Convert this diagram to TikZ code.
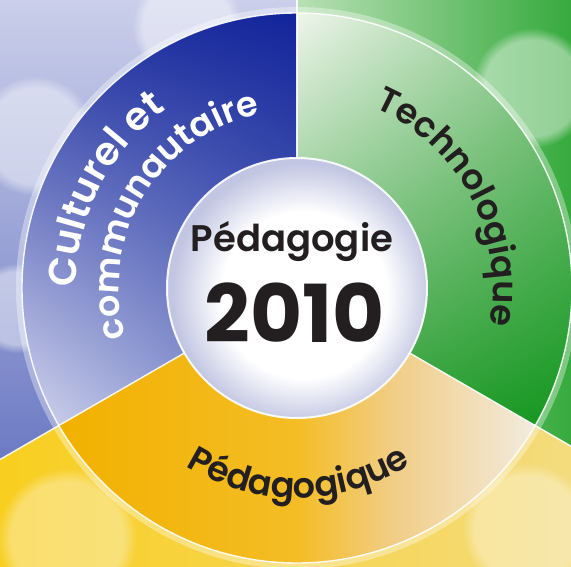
\documentclass[tikz,border=0pt]{standalone}
\usepackage{fontspec}
\setmainfont{Poppins}
\newfontfamily\ringfont{Poppins}[UprightFont={* SemiBold}]
\usetikzlibrary{decorations.text,shadings,fadings}
\definecolor{bgBlueTop}{HTML}{CDD1EB}
\definecolor{bgBlueMid}{HTML}{4A5CB5}
\definecolor{bgBlueBot}{HTML}{6C7AC3}
\definecolor{bgGreenL}{HTML}{B9E0B5}
\definecolor{bgGreenR}{HTML}{2AA532}
\definecolor{bgYelL}{HTML}{F8CE1E}
\definecolor{bgYelR}{HTML}{F4DC82}
\definecolor{blueUR}{HTML}{12249A}
\definecolor{blueUL}{HTML}{2233A2}
\definecolor{blueLL}{HTML}{D4D7EE}
\definecolor{blueLR}{HTML}{6E7EC5}
\definecolor{greenUL}{HTML}{EEF5EB}
\definecolor{greenUR}{HTML}{7CC27C}
\definecolor{greenLL}{HTML}{3AA23E}
\definecolor{greenLR}{HTML}{0C9419}
\definecolor{yelA}{HTML}{F2B100}
\definecolor{yelB}{HTML}{F4BD25}
\definecolor{yelC}{HTML}{F1CD85}
\definecolor{yelD}{HTML}{F2EBDF}
\definecolor{innerEdge}{HTML}{C2C6E2}
\definecolor{ink}{HTML}{231F20}
\pgfdeclareradialshading{innerglow}{\pgfpoint{2bp}{-2bp}}{color(0bp)=(white); color(16bp)=(white); color(25bp)=(innerEdge); color(50bp)=(innerEdge)}
\pgfdeclarehorizontalshading{yelshade}{100bp}{color(0bp)=(yelA); color(25bp)=(yelA); color(50bp)=(yelB); color(60bp)=(yelC); color(75bp)=(yelD); color(100bp)=(yelD)}
\tikzset{
  divider/.style={draw=white, line width=1.4pt, opacity=0.9},
  blob/.style={fill=white, path fading=circle with fuzzy edge 20 percent, opacity=0.45},
  ringtext/.style={decorate, decoration={text along path, text align=center, #1}}
}
\begin{document}
\begin{tikzpicture}[x=1pt,y=1pt]
\useasboundingbox (-297,-278) rectangle (274,288);
\begin{scope}
\clip (-297,-278) rectangle (274,288);
% background sectors
\shade[top color=bgBlueTop, middle color=bgBlueMid, bottom color=bgBlueBot]
  (0,0) -- (0,300) -- (-300,300) -- (-300,-173.2) -- cycle;
\shade[left color=bgGreenL, right color=bgGreenR]
  (0,0) -- (0,300) -- (300,300) -- (300,-173.2) -- cycle;
\shade[left color=bgYelL, right color=bgYelR]
  (0,0) -- (300,-173.2) -- (300,-300) -- (-300,-300) -- (-300,-173.2) -- cycle;
% soft background blobs
\fill[blob] (-262,152) circle[radius=60];
\fill[blob] (-110,262) circle[radius=55];
\fill[blob] (-280,-20) circle[radius=45];
\fill[blob] (235,200) circle[radius=60];
\fill[blob, opacity=0.35] (-230,-250) circle[radius=70];
\fill[blob, opacity=0.35] (230,-240) circle[radius=65];
% glow round the ring
\draw[white, line width=8pt, opacity=0.35] (0,0) circle[radius=277];
% ring segments
\shade[upper left=blueUL, upper right=blueUR, lower left=blueLL, lower right=blueLR]
  (90:275) arc[start angle=90, end angle=210, radius=275] -- (210:130)
  arc[start angle=210, end angle=90, radius=130] -- cycle;
\shade[upper left=greenUL, upper right=greenUR, lower left=greenLL, lower right=greenLR]
  (-30:275) arc[start angle=-30, end angle=90, radius=275] -- (90:130)
  arc[start angle=90, end angle=-30, radius=130] -- cycle;
\shade[shading=yelshade]
  (210:275) arc[start angle=210, end angle=330, radius=275] -- (330:130)
  arc[start angle=330, end angle=210, radius=130] -- cycle;
% dividers
\draw[divider] (90:130) -- (90:320);
\draw[divider] (210:130) -- (210:360);
\draw[divider] (330:130) -- (330:360);
\draw[white, line width=1.4pt, opacity=0.9] (0,0) circle[radius=275];
% centre disc
\shade[shading=innerglow] (0,0) circle[radius=130];
\draw[white, line width=2pt, opacity=0.9] (0,0) circle[radius=130];
\end{scope}
% curved labels
\path[ringtext={text color=white, text={|\ringfont\fontsize{39}{39}\selectfont|Culturel et}}]
  (202:221) arc[start angle=202, end angle=104, radius=221];
\path[ringtext={text color=white, text={|\ringfont\fontsize{35}{35}\selectfont|communautaire}}]
  (217:178) arc[start angle=217, end angle=81, radius=178];
\path[ringtext={text color=ink, text={|\ringfont\fontsize{35}{35}\selectfont|Technologique}}]
  (88:196) arc[start angle=88, end angle=-32, radius=196];
\path[ringtext={text color=ink, text={|\ringfont\fontsize{35}{35}\selectfont|Pédagogique}}]
  (225:210) arc[start angle=225, end angle=316, radius=210];
% centre labels
\node[text=ink, font=\ringfont\fontsize{37}{37}\selectfont] (titre) at (-5,47) {Pédagogie};
\node[text=ink, font=\fontsize{80}{80}\selectfont\bfseries] (annee) at (-2,-25) {2010};
\end{tikzpicture}
\end{document}
